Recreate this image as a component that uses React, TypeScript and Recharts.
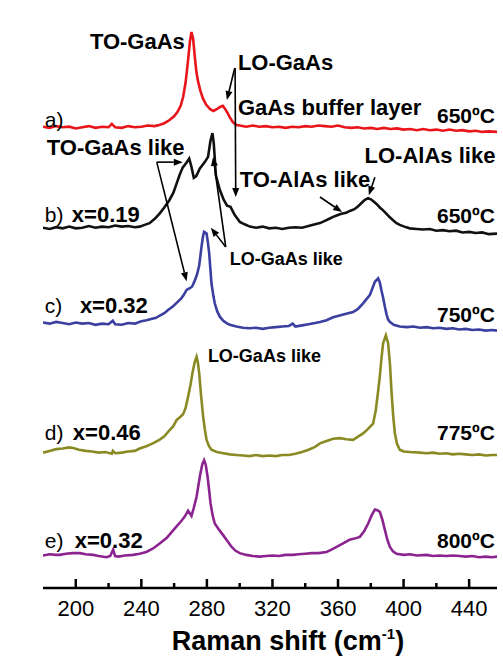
import { LineChart, Line, XAxis, YAxis, ReferenceLine, ReferenceDot } from 'recharts'

// Raman spectra, [shift cm-1, stacked intensity]
const specA: [number, number][] = [
  [180, 79.4], [184, 79.2], [188, 79.5], [192, 79.3], [196, 79.4], [200, 79.1], [204, 79.3], [208, 79.5],
  [212, 79.2], [216, 79.4], [220, 79.3], [222, 79.9], [224, 79.3], [228, 79.2], [232, 79.5], [236, 79.3],
  [240, 79.4], [244, 79.6], [248, 79.5], [251, 79.7], [254, 80.0], [257, 80.5], [260, 81.2], [262, 81.9],
  [264, 83.0], [265.5, 84.5], [267, 87.0], [268.4, 90.5], [269.6, 94.0], [270.6, 95.7], [271.6, 94.5],
  [272.6, 91.5], [273.6, 88.8], [274.6, 87.2], [276, 85.6], [277.5, 84.3], [279.5, 83.2], [282, 82.4],
  [284, 82.1], [286, 82.4], [288, 82.8], [289.7, 83.0], [291, 82.5], [292.5, 81.8], [294, 81.0],
  [295.8, 80.2], [298, 79.7], [300, 79.6], [304, 79.4], [308, 79.6], [312, 79.4], [316, 79.5], [320, 79.3],
  [324, 79.4], [328, 79.2], [332, 79.4], [336, 79.3], [340, 79.5], [344, 79.4], [348, 79.6], [352, 79.5],
  [356, 79.4], [360, 79.6], [364, 79.3], [368, 79.2], [372, 79.3], [376, 79.1], [380, 79.2], [384, 79.0],
  [388, 79.2], [392, 79.0], [396, 79.1], [400, 78.9], [404, 79.0], [408, 78.8], [412, 79.0], [416, 78.8],
  [420, 78.9], [424, 78.7], [428, 78.9], [432, 78.7], [436, 78.8], [440, 78.6], [444, 78.7], [448, 78.5],
  [452, 78.6], [457, 78.5],
]

const specB: [number, number][] = [
  [180, 62.0], [184, 61.8], [188, 62.1], [192, 61.9], [196, 62.2], [200, 61.9], [204, 62.0], [208, 62.3],
  [212, 62.0], [216, 62.2], [220, 62.1], [224, 62.4], [228, 62.2], [232, 62.3], [236, 62.1], [239, 62.2],
  [242, 62.5], [245, 62.8], [248, 63.5], [251, 64.4], [254, 65.5], [257, 66.7], [259.5, 68.0], [261.5, 69.6],
  [263.5, 71.2], [265.3, 72.4], [267.5, 73.2], [269.2, 73.9], [270.5, 72.6], [272, 70.6], [273.5, 70.9],
  [275.7, 72.2], [278.7, 73.3], [280.7, 74.2], [282.2, 77.0], [283.4, 78.3], [284.2, 76.5], [285.5, 71.0],
  [287.9, 68.5], [290.3, 66.8], [292.3, 65.8], [294.4, 65.6], [297, 64.2], [300.1, 63.0], [303, 62.6],
  [306.2, 62.2], [310, 62.0], [314, 62.2], [318, 61.9], [322, 62.0], [326, 61.8], [330, 62.0], [334, 62.1],
  [338, 62.0], [342, 62.3], [346, 62.6], [349, 62.8], [352, 63.2], [355, 63.6], [358, 64.0], [362, 64.4],
  [365, 64.6], [367.2, 64.9], [370, 65.2], [372.3, 65.7], [374.5, 66.3], [376.4, 66.8], [378.4, 67.1],
  [380, 66.9], [381.4, 66.6], [383.5, 66.1], [385.5, 65.5], [387.5, 65.0], [389.6, 64.4], [391.6, 63.8],
  [393.6, 63.3], [395.7, 62.8], [397.7, 62.5], [400.5, 62.2], [403.8, 61.9], [408, 61.8], [412, 61.7],
  [416, 61.8], [420, 61.5], [424, 61.6], [428, 61.4], [432, 61.5], [436, 61.2], [440, 61.3], [444, 61.1],
  [448, 61.2], [452, 60.9], [457, 61.0],
]

const specC: [number, number][] = [
  [180, 45.7], [184, 45.5], [188, 45.8], [192, 45.6], [196, 45.4], [200, 45.7], [204, 45.5], [208, 45.6],
  [212, 45.3], [216, 45.5], [220, 45.4], [222.6, 46.0], [224, 45.4], [228, 45.3], [232, 45.6], [236, 45.5],
  [240, 45.9], [243.2, 46.1], [246, 46.3], [249, 46.5], [251.3, 46.9], [254, 47.3], [256.5, 47.9],
  [259.4, 48.5], [262, 49.2], [264.5, 49.9], [266, 50.5], [267.6, 51.3], [269.6, 51.6], [271, 51.9],
  [272.6, 52.9], [274, 54.0], [275.3, 55.5], [276.7, 58.7], [277.6, 60.5], [278.3, 61.3], [279.8, 61.0],
  [280.6, 59.5], [281.4, 57.6], [282.1, 55.0], [282.8, 52.4], [284, 50.2], [284.8, 49.0], [286.3, 47.6],
  [287.9, 46.7], [290, 46.0], [292, 45.6], [294, 45.3], [298, 45.0], [302, 44.8], [306, 44.7], [310, 44.8],
  [314, 44.6], [318, 44.8], [322, 44.9], [326, 45.0], [330, 45.1], [332.4, 45.5], [334, 45.0], [338, 45.2],
  [342, 45.4], [346, 45.6], [349, 45.8], [353, 46.1], [357, 46.6], [361, 46.9], [365, 47.2], [369.2, 47.5],
  [372, 48.0], [375.3, 49.0], [377, 49.6], [379.4, 50.4], [381, 51.6], [382.5, 52.7], [384.5, 53.3],
  [385.5, 52.6], [386.5, 51.2], [387.5, 50.0], [388.6, 48.4], [389.6, 47.1], [390.6, 46.2], [391.6, 45.8],
  [394, 45.3], [397.7, 45.0], [402, 44.9], [406, 45.0], [410, 44.8], [414, 44.9], [418, 44.7], [422, 44.8],
  [426, 44.6], [430, 44.7], [434, 44.5], [438, 44.6], [442, 44.4], [446, 44.5], [450, 44.3], [454, 44.4],
  [457, 44.3],
]

const specD: [number, number][] = [
  [180, 23.3], [184, 23.6], [188, 23.9], [192, 24.0], [196, 24.2], [198.4, 24.1], [202, 23.8], [206, 23.6],
  [210, 23.5], [214, 23.3], [218, 23.4], [222, 23.1], [222.6, 23.6], [224, 23.2], [228, 23.3], [232, 23.5],
  [236, 23.6], [239, 24.0], [243, 24.4], [247, 24.9], [251, 25.5], [254, 26.1], [257.4, 27.2], [259.4, 27.8],
  [261.5, 28.9], [263.5, 29.4], [265.5, 29.9], [267, 31.0], [268.5, 32.9], [270, 35.0], [271.2, 37.0],
  [272.5, 38.8], [273.7, 39.8], [274.5, 38.8], [275.3, 37.0], [276.5, 33.0], [277.7, 29.5], [278.8, 27.2],
  [279.8, 25.5], [281.3, 24.4], [282.8, 23.8], [286, 23.4], [290, 23.2], [294, 23.0], [298, 22.9],
  [302, 22.8], [306, 22.7], [310, 22.9], [314, 22.7], [318, 22.8], [322, 22.7], [326, 22.9], [330, 22.9],
  [334, 23.1], [338, 23.4], [342, 23.8], [346, 24.3], [349, 24.9], [353, 25.3], [357, 25.7], [361.1, 25.8],
  [365, 25.6], [369.2, 25.5], [372, 26.0], [375.3, 26.6], [378, 27.3], [381.4, 28.3], [383, 30.5],
  [384.3, 33.5], [385.5, 36.4], [386.5, 39.5], [387.5, 42.1], [389.2, 43.5], [390.6, 42.1], [391.7, 38.5],
  [392.7, 33.5], [393.7, 29.5], [394.7, 26.6], [396, 24.8], [397.7, 23.8], [400, 23.5], [404, 23.4],
  [409.9, 23.3], [414, 23.2], [418, 23.3], [422, 23.1], [426, 23.2], [430, 23.0], [434, 23.1], [438, 23.0],
  [442, 22.9], [446, 23.0], [450, 22.8], [454, 22.9], [457, 22.9],
]

const specE: [number, number][] = [
  [180, 5.6], [184, 5.8], [188, 5.7], [190.3, 5.7], [194, 5.9], [198, 6.0], [202.5, 6.0], [206, 5.8],
  [210.6, 5.7], [214, 5.5], [218.7, 5.3], [221, 5.5], [222.8, 6.6], [224, 5.5], [226, 5.4], [230, 5.6],
  [235, 5.7], [239, 5.9], [243, 6.2], [247.2, 6.8], [251, 7.6], [255.4, 8.6], [258.5, 9.6], [261.5, 10.6],
  [264, 11.4], [266.5, 12.3], [268.5, 13.3], [270.6, 12.4], [272, 13.8], [273.7, 15.7], [275.7, 19.2],
  [277.2, 21.3], [278.3, 22.0], [279.3, 21.2], [280.4, 19.2], [281.3, 17.0], [282.2, 14.6], [283.5, 12.5],
  [284.8, 11.1], [287.5, 10.0], [289.9, 9.1], [292.5, 8.1], [295, 7.1], [297.5, 6.4], [300.1, 6.0],
  [304, 5.7], [308, 5.5], [312.3, 5.4], [316, 5.5], [320, 5.6], [324, 5.5], [328, 5.7], [332.6, 5.7],
  [336, 5.8], [340, 5.9], [344, 6.0], [348, 6.0], [353, 6.2], [356, 6.6], [360, 7.2], [363.1, 7.7],
  [367, 8.3], [370, 8.5], [373.3, 8.8], [376, 9.8], [378.4, 11.1], [380.5, 12.5], [382.5, 13.5], [384, 13.4],
  [385.5, 13.1], [387, 11.8], [388.6, 10.0], [390, 8.4], [391.6, 7.1], [393.5, 6.3], [395.7, 5.9],
  [400, 5.7], [404, 5.8], [408, 5.6], [414, 5.7], [418, 5.5], [422, 5.6], [426, 5.5], [430, 5.6],
  [434.3, 5.5], [438, 5.4], [442, 5.5], [446, 5.3], [450, 5.4], [454, 5.3], [457, 5.4],
]

const shiftTicks = [200, 220, 240, 260, 280, 300, 320, 340, 360, 380, 400, 420, 440]

const series = [
  { key: 'a', data: specA, color: '#e8161b' },
  { key: 'b', data: specB, color: '#111111' },
  { key: 'c', data: specC, color: '#3b3f9f' },
  { key: 'd', data: specD, color: '#8a8a25' },
  { key: 'e', data: specE, color: '#8c2490' },
]

const FONT = '"Liberation Sans", Arial, sans-serif'

// text notes: anchor in data coords
const notes = [
  { text: 'TO-GaAs', x: 208.6, y: 92.8, size: 22, bold: true },
  { text: 'LO-GaAs', x: 298.9, y: 89.2, size: 22, bold: true },
  { text: 'GaAs buffer layer', x: 298.9, y: 81.4, size: 22, bold: true },
  { text: 'a)', x: 181.1, y: 79.3, size: 21 },
  { text: '650ºC', x: 455.7, y: 80.0, size: 21, bold: true, end: true },
  { text: 'TO-GaAs like', x: 182.3, y: 74.5, size: 22, bold: true },
  { text: 'LO-AlAs like', x: 376.2, y: 73.1, size: 22, bold: true },
  { text: 'TO-AlAs like', x: 300.1, y: 69.0, size: 22, bold: true },
  { text: 'b)', x: 181.1, y: 63.0, size: 21 },
  { text: 'x=0.19', x: 197.6, y: 63.0, size: 22, bold: true },
  { text: '650ºC', x: 455.7, y: 62.8, size: 21, bold: true, end: true },
  { text: 'LO-GaAs like', x: 293.9, y: 55.6, size: 18, bold: true },
  { text: 'c)', x: 181.1, y: 47.3, size: 21 },
  { text: 'x=0.32', x: 202.5, y: 47.3, size: 22, bold: true },
  { text: '750ºC', x: 455.7, y: 45.8, size: 21, bold: true, end: true },
  { text: 'LO-GaAs like', x: 280.6, y: 38.9, size: 18, bold: true },
  { text: 'd)', x: 181.1, y: 25.5, size: 21 },
  { text: 'x=0.46', x: 198.2, y: 25.5, size: 22, bold: true },
  { text: '775ºC', x: 455.7, y: 25.5, size: 21, bold: true, end: true },
  { text: 'e)', x: 181.1, y: 6.9, size: 21 },
  { text: 'x=0.32', x: 199.4, y: 6.9, size: 22, bold: true },
  { text: '800ºC', x: 455.7, y: 6.9, size: 21, bold: true, end: true },
]

// arrows: from -> to, data coords
const arrows = [
  { from: [297.0, 89.5], to: [292.2, 84.0] },
  { from: [297.2, 89.5], to: [297.6, 67.3] },
  { from: [249.4, 73.3], to: [265.3, 73.3] },
  { from: [249.4, 73.3], to: [267.6, 52.8] },
  { from: [291.5, 58.7], to: [283.8, 74.2] },
  { from: [291.5, 58.7], to: [282.4, 62.0] },
  { from: [349.0, 67.3], to: [362.5, 64.7] },
  { from: [382.5, 70.7], to: [378.8, 67.6] },
]

function ArrowShape(p: any) {
  const { x1, y1, x2, y2 } = p
  const ang = Math.atan2(y2 - y1, x2 - x1)
  const len = 9
  const half = 3.5
  const bx = x2 - len * Math.cos(ang)
  const by = y2 - len * Math.sin(ang)
  const sx = half * Math.sin(ang)
  const sy = half * Math.cos(ang)
  return (
    <g>
      <line x1={x1} y1={y1} x2={bx} y2={by} stroke="#000" strokeWidth={1.6} />
      <polygon points={`${x2},${y2} ${bx - sx},${by + sy} ${bx + sx},${by - sy}`} fill="#000" />
    </g>
  )
}

function ShiftTick(p: any) {
  const { x, y, payload } = p
  const major = payload.value % 40 === 0
  return (
    <g>
      <line x1={x} x2={x} y1={y} y2={y - (major ? 9 : 5)} stroke="#000" strokeWidth={2.5} />
      {major && (
        <text x={x} y={y + 28} textAnchor="middle" fontSize={22} fontFamily={FONT} fill="#000">
          {payload.value}
        </text>
      )}
    </g>
  )
}

export default function App() {
  return (
    <div style={{ position: 'absolute', left: 0, top: 0, width: 503, height: 657, background: '#fff' }}>
      <LineChart width={503} height={657} margin={{ top: 7, right: 6, left: 43, bottom: 0 }}>
        <XAxis
          dataKey="w"
          type="number"
          domain={[180, 457]}
          allowDataOverflow
          ticks={shiftTicks}
          interval={0}
          height={69}
          tickSize={0}
          tickMargin={0}
          tickLine={false}
          tick={<ShiftTick />}
          axisLine={{ stroke: '#000', strokeWidth: 2.5 }}
          label={(props: any) => {
            const vb = props.viewBox
            return (
              <text x={288} y={vb.y + 62} textAnchor="middle" fontSize={27} fontWeight="bold" fontFamily={FONT} fill="#000">
                Raman shift (cm<tspan dy={-11} fontSize={15}>-1</tspan>
                <tspan dy={11}>)</tspan>
              </text>
            )
          }}
        />
        <XAxis xAxisId="top" orientation="top" type="number" domain={[180, 457]} height={0} tick={false} tickLine={false} axisLine={{ stroke: '#000', strokeWidth: 2.5 }} />
        <YAxis
          type="number"
          domain={[0, 100]}
          width={0}
          tick={false}
          tickLine={false}
          axisLine={{ stroke: '#000', strokeWidth: 2.5 }}
          label={() => {
            const cx = 30
            const cy = 308
            return (
              <text
                x={cx}
                y={cy}
                transform={`rotate(-90 ${cx} ${cy})`}
                textAnchor="middle"
                dominantBaseline="central"
                fontSize={27}
                fontWeight="bold"
                fontFamily={FONT}
                fill="#000"
              >
                Intensity (arb.u.)
              </text>
            )
          }}
        />
        <YAxis yAxisId="right" orientation="right" type="number" domain={[0, 100]} width={0} tick={false} tickLine={false} axisLine={{ stroke: '#000', strokeWidth: 2.5 }} />

        {series.map((s) => (
          <Line
            key={s.key}
            data={s.data.map(([w, v]) => ({ w, v }))}
            dataKey="v"
            type="linear"
            stroke={s.color}
            strokeWidth={2.6}
            dot={false}
            isAnimationActive={false}
          />
        ))}

        {arrows.map((a, i) => (
          <ReferenceLine
            key={'ar' + i}
            segment={[{ x: a.from[0], y: a.from[1] }, { x: a.to[0], y: a.to[1] }]}
            shape={ArrowShape}
          />
        ))}

        {notes.map((n, i) => (
          <ReferenceDot
            key={'n' + i}
            x={n.x}
            y={n.y}
            r={0}
            shape={(p: any) => (
              <text
                x={p.cx}
                y={p.cy}
                textAnchor={n.end ? 'end' : 'start'}
                fontSize={n.size}
                fontWeight={n.bold ? 'bold' : 'normal'}
                fontFamily={FONT}
                fill="#000"
              >
                {n.text}
              </text>
            )}
          />
        ))}
      </LineChart>
    </div>
  )
}
